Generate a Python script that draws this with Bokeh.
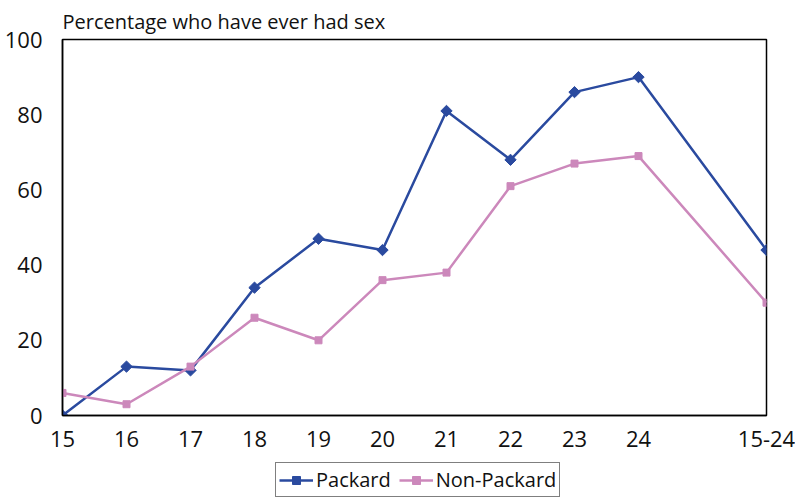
import math
from bokeh.plotting import figure
from bokeh.models import Range1d, FixedTicker, Legend, LegendItem
from bokeh.layouts import column
from bokeh.embed import file_html
from bokeh.resources import INLINE

ages = ["15", "16", "17", "18", "19", "20", "21", "22", "23", "24", "15-24"]
xpos = [0, 1, 2, 3, 4, 5, 6, 7, 8, 9, 11]
packard = [0, 13, 12, 34, 47, 44, 81, 68, 86, 90, 44]
non_packard = [6, 3, 13, 26, 20, 36, 38, 61, 67, 69, 30]
y_ticks = [0, 20, 40, 60, 80, 100]
title_text = "Percentage who have ever had sex"
series_names = ["Packard", "Non-Packard"]

FONT = "Open Sans"
BLUE = "#2a4a9f"
PINK = "#cc88bb"
ROT = math.pi / 4

p = figure(width=795, height=455, output_backend="svg", toolbar_location=None,
           x_range=Range1d(0, 11), y_range=Range1d(0, 100),
           min_border_left=62, min_border_right=29, min_border_top=39,
           min_border_bottom=40, title=title_text)
p.title.text_font = FONT
p.title.text_font_size = "20px"
p.title.text_font_style = "normal"
p.title.text_color = "#111111"
p.title.align = "left"
p.title.standoff = 9
p.title.offset = 0

p.grid.visible = False
p.outline_line_color = "black"
p.outline_line_width = 1.5
p.background_fill_color = "white"
p.border_fill_color = "white"

for ax in (p.xaxis[0], p.yaxis[0]):
    ax.major_tick_line_color = None
    ax.minor_tick_line_color = None
    ax.axis_line_color = "black"
    ax.axis_line_width = 1.5
    ax.major_label_text_font = FONT
    ax.major_label_text_font_size = "22px"
    ax.major_label_text_color = "#111111"

p.xaxis.ticker = FixedTicker(ticks=xpos)
p.xaxis.major_label_overrides = {x: a for x, a in zip(xpos, ages)}
p.xaxis.major_label_standoff = 9
p.yaxis.ticker = FixedTicker(ticks=y_ticks)
p.yaxis.major_label_standoff = 14

p.line(xpos, packard, line_color=BLUE, line_width=2.5)
p.scatter(xpos, packard, marker="square", angle=ROT, size=8, fill_color=BLUE, line_color=BLUE)
p.line(xpos, non_packard, line_color=PINK, line_width=2.5)
p.scatter(xpos, non_packard, marker="square", size=7, fill_color=PINK, line_color=PINK)

# legend strip below the chart (dummy glyphs placed outside the visible range)
q = figure(width=795, height=43, output_backend="svg", toolbar_location=None,
           x_range=Range1d(0, 1), y_range=Range1d(0, 1),
           min_border_left=62, min_border_right=29, min_border_top=0,
           min_border_bottom=0, outline_line_color=None)
q.axis.visible = False
q.grid.visible = False
hidden = [-10, -9]
ql1 = q.line(hidden, hidden, line_color=BLUE, line_width=2.5)
qm1 = q.scatter(hidden, hidden, marker="square", angle=ROT, size=8, fill_color=BLUE, line_color=BLUE)
ql2 = q.line(hidden, hidden, line_color=PINK, line_width=2.5)
qm2 = q.scatter(hidden, hidden, marker="square", size=7, fill_color=PINK, line_color=PINK)
legend = Legend(items=[LegendItem(label=series_names[0], renderers=[ql1, qm1]),
                       LegendItem(label=series_names[1], renderers=[ql2, qm2])],
                orientation="horizontal", location=(213, 1),
                label_text_font=FONT, label_text_font_size="20px",
                label_text_color="#111111",
                border_line_color="black", border_line_width=1.2,
                padding=3, spacing=8, glyph_width=34, label_standoff=3,
                margin=0, background_fill_alpha=1)
q.add_layout(legend, "center")

open("out.html", "w").write(file_html(column(p, q, spacing=0), INLINE))
